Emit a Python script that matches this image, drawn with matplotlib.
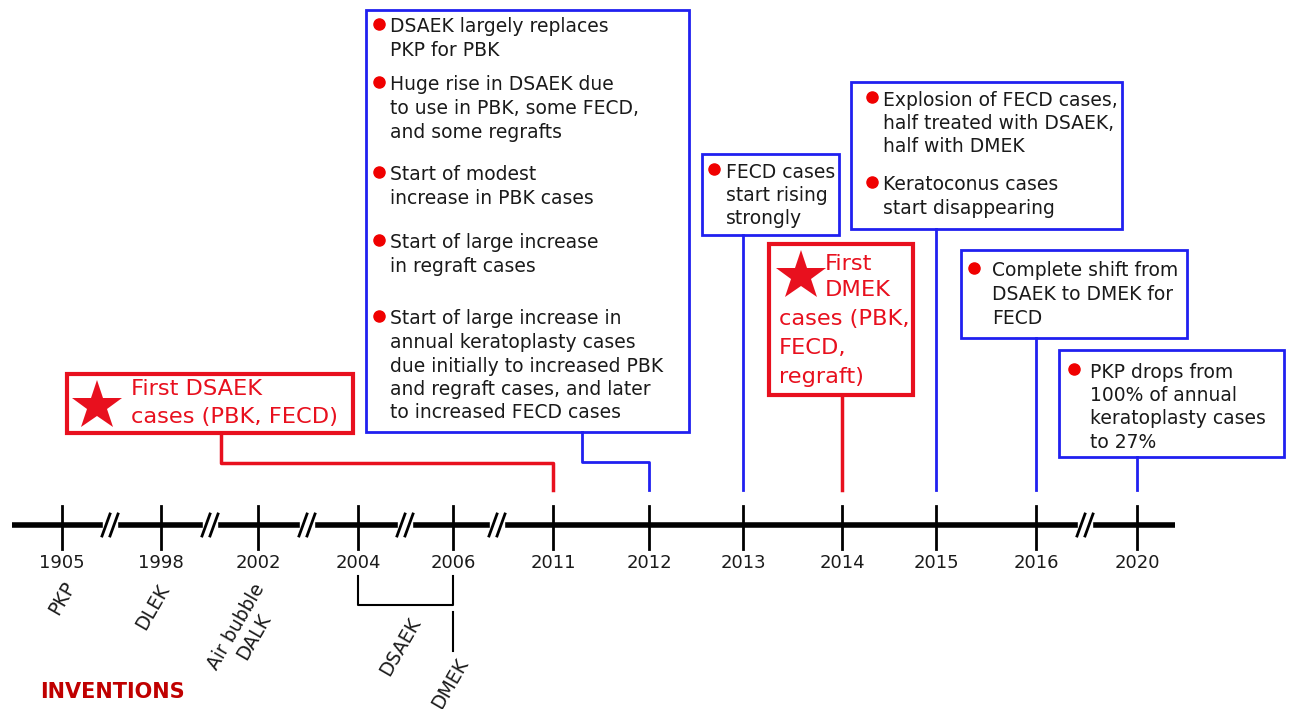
import matplotlib
matplotlib.use("Agg")
import matplotlib.pyplot as plt
from matplotlib.patches import Rectangle

plt.rcParams['font.family'] = ['DejaVu Sans']

# ---------------- data ----------------
years = ["1905", "1998", "2002", "2004", "2006", "2011", "2012", "2013", "2014", "2015", "2016", "2020"]
inventions = ["PKP", "DLEK", "Air bubble\nDALK", "DSAEK", "DMEK"]
box_2011 = ["First DSAEK", "cases (PBK, FECD)"]
box_2012 = [
    ["DSAEK largely replaces", "PKP for PBK"],
    ["Huge rise in DSAEK due", "to use in PBK, some FECD,", "and some regrafts"],
    ["Start of modest", "increase in PBK cases"],
    ["Start of large increase", "in regraft cases"],
    ["Start of large increase in", "annual keratoplasty cases",
     "due initially to increased PBK", "and regraft cases, and later",
     "to increased FECD cases"],
]
box_2013 = [["FECD cases", "start rising", "strongly"]]
box_2014 = ["First", "DMEK", "cases (PBK,", "FECD,", "regraft)"]
box_2015 = [["Explosion of FECD cases,", "half treated with DSAEK,", "half with DMEK"],
            ["Keratoconus cases", "start disappearing"]]
box_2016 = [["Complete shift from", "DSAEK to DMEK for", "FECD"]]
box_2020 = [["PKP drops from", "100% of annual", "keratoplasty cases", "to 27%"]]
section_title = "INVENTIONS"

# ---------------- layout ----------------
W, H = 1290, 709
RED = '#e8101e'
BLUE = '#2020f0'
DOT = '#f00000'
TXT = '#1a1a1a'
FS = 13.5
RFS = 16.2
LH = 23.5

fig = plt.figure(figsize=(W / 100, H / 100), dpi=100)
ax = fig.add_axes([0, 0, 1, 1])
ax.set_xlim(0, W)
ax.set_ylim(H, 0)
ax.axis('off')

tick_x = [62, 161, 258, 358, 453, 553, 649, 743, 842, 936, 1036, 1137]
line_y = 525
ax.plot([12, 1175], [line_y, line_y], color='black', lw=4, solid_capstyle='butt', zorder=3)
for x, yr in zip(tick_x, years):
    ax.plot([x, x], [506, 549], color='black', lw=2, zorder=3)
    ax.text(x, 563, yr, ha='center', va='center', fontsize=13, color=TXT)

# axis breaks
for bx in [110, 210, 307, 405, 497, 1085]:
    ax.fill_between([bx - 7, bx + 7], line_y - 6, line_y + 6, color='white', zorder=4)
    for dx in (-4, 4):
        ax.plot([bx + dx - 4, bx + dx + 4], [line_y + 11, line_y - 11], color='black', lw=2, zorder=5)

# invention labels (rotated)
inv_pos = [(62, 598), (153, 607), (245, 632), (400, 647), (450, 683)]
for (x, y), lab in zip(inv_pos, inventions):
    ax.text(x, y, lab, rotation=60, ha='center', va='center', rotation_mode='anchor',
            fontsize=13.5, color=TXT, linespacing=1.05)

# bracket for DSAEK / DMEK
ax.plot([358, 358, 453, 453], [576, 605, 605, 576], color='black', lw=1.5)
ax.plot([453, 453], [612, 651], color='black', lw=1.5)

ax.text(40, 692, section_title, ha='left', va='center', fontsize=15, fontweight='bold',
        color='#c00000')


def box(x0, y0, x1, y1, color, lw=2):
    ax.add_patch(Rectangle((x0, y0), x1 - x0, y1 - y0, fill=False, edgecolor=color, lw=lw, zorder=2))


def bullets(items, xdot, xtext, ystarts):
    for lines, ys in zip(items, ystarts):
        ax.plot(xdot, ys - 3, 'o', color=DOT, markersize=8, zorder=3)
        for i, ln in enumerate(lines):
            ax.text(xtext, ys + i * LH, ln, ha='left', va='center', fontsize=FS, color=TXT)


# 2011 red box
box(67, 374, 353, 433, RED, lw=3)
ax.plot(97, 406, marker='*', color=RED, markersize=38, markeredgewidth=0)
for i, ln in enumerate(box_2011):
    ax.text(131, 389 + i * 28, ln, ha='left', va='center', fontsize=RFS, color=RED)
ax.plot([221, 221, 553, 553], [433, 463, 463, 490], color=RED, lw=2.5)

# 2012 blue box
box(366, 10, 689, 432, BLUE)
bullets(box_2012, 379, 390, [27, 85, 175, 243, 319])
ax.plot([582, 582, 649, 649], [432, 462, 462, 490], color=BLUE, lw=2)

# 2013
box(702, 154, 839, 235, BLUE)
bullets(box_2013, 714, 726, [172])
ax.plot([743, 743], [235, 490], color=BLUE, lw=2)

# 2014 red box
box(769, 244, 913, 395, RED, lw=3)
ax.plot(801, 276, marker='*', color=RED, markersize=38, markeredgewidth=0)
dm_pos = [(825, 264), (825, 290), (779, 319), (779, 348), (779, 377)]
for (x, y), ln in zip(dm_pos, box_2014):
    ax.text(x, y, ln, ha='left', va='center', fontsize=RFS, color=RED)
ax.plot([842, 842], [395, 490], color=RED, lw=2.5)

# 2015
box(851, 82, 1122, 229, BLUE)
bullets(box_2015, 872, 883, [100, 185])
ax.plot([936, 936], [229, 490], color=BLUE, lw=2)

# 2016
box(961, 250, 1187, 338, BLUE)
bullets([[box_2016[0][0]]], 974, 992, [271])
for i, ln in enumerate(box_2016[0][1:]):
    ax.text(992, 295 + i * LH, ln, ha='left', va='center', fontsize=FS, color=TXT)
ax.plot([1036, 1036], [338, 490], color=BLUE, lw=2)

# 2020
box(1059, 350, 1284, 457, BLUE)
bullets(box_2020, 1074, 1090, [372])
ax.plot([1137, 1137], [457, 490], color=BLUE, lw=2)

fig.savefig('out.png', dpi=100, facecolor='white')
